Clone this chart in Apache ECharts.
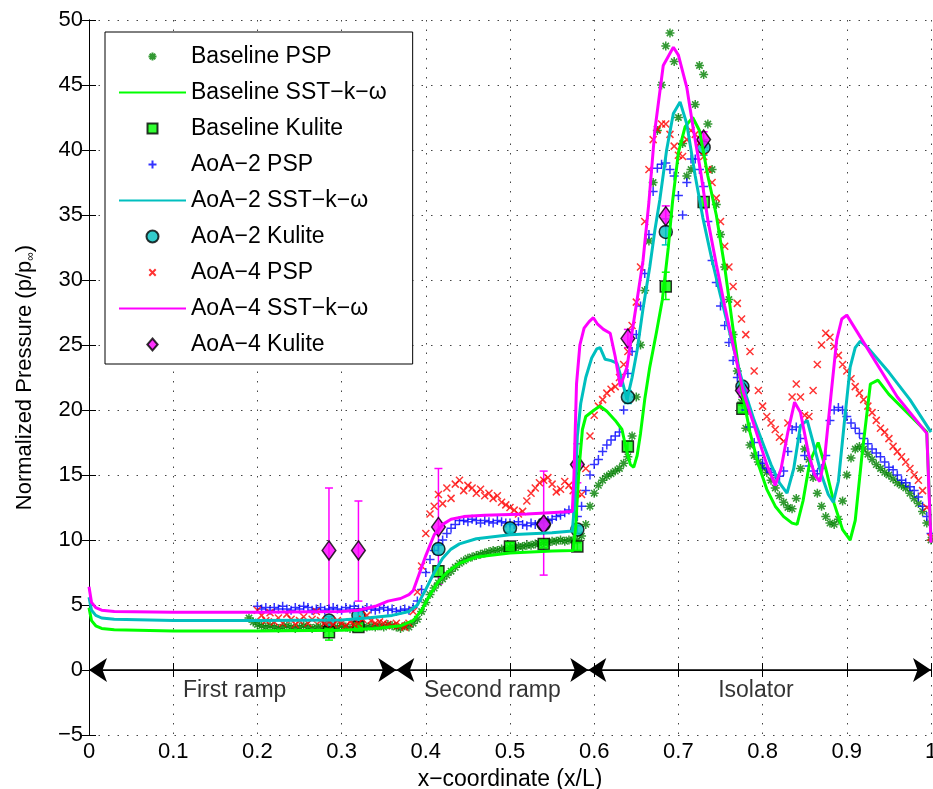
<!DOCTYPE html>
<html><head><meta charset="utf-8">
<script src="https://cdn.jsdelivr.net/npm/echarts@6.0.0/dist/echarts.min.js"></script>
<style>html,body{margin:0;padding:0;background:#fff}#c{width:933px;height:789px}</style>
</head><body><div id="c"></div>
<script>
// ---------- DATA ----------
const pspX = [
0.19,0.195,0.2,0.205,0.21,0.215,0.22,0.225,0.23,0.235,
0.24,0.245,0.25,0.255,0.26,0.265,0.27,0.275,0.28,0.285,
0.29,0.295,0.3,0.305,0.31,0.315,0.32,0.325,0.33,0.335,
0.34,0.345,0.35,0.355,0.36,0.365,0.37,0.375,0.38,0.385,
0.39,0.395,0.4,0.405,0.41,0.415,0.42,0.425,0.43,0.435,
0.44,0.445,0.45,0.455,0.46,0.465,0.47,0.475,0.48,0.485,
0.49,0.495,0.5,0.505,0.51,0.515,0.52,0.525,0.53,0.535,
0.54,0.545,0.55,0.555,0.56,0.565,0.57,0.575,0.58,0.585,
0.59,0.595,0.6,0.605,0.61,0.615,0.62,0.625,0.63,0.635,
0.64,0.645,0.65,0.655,0.66,0.665,0.67,0.675,0.68,0.685,
0.69,0.695,0.7,0.705,0.71,0.715,0.72,0.725,0.73,0.735,
0.74,0.745,0.75,0.755,0.76,0.765,0.77,0.775,0.78,0.785,
0.79,0.795,0.8,0.805,0.81,0.815,0.82,0.825,0.83,0.835,
0.84,0.845,0.85,0.855,0.86,0.865,0.87,0.875,0.88,0.885,
0.89,0.895,0.9,0.905,0.91,0.915,0.92,0.925,0.93,0.935,
0.94,0.945,0.95,0.955,0.96,0.965,0.97,0.975,0.98,0.985,
0.99,0.995,1.0];

const baselinePSP = [
4.0,3.7,3.5,3.4,3.3,3.4,3.3,3.2,3.3,3.4,
3.3,3.2,3.3,3.4,3.3,3.2,3.3,3.3,3.2,3.3,
3.2,3.3,3.4,3.3,3.2,3.3,3.4,3.3,3.3,3.4,
3.3,3.4,3.3,3.5,3.4,3.3,3.2,3.4,3.3,3.6,
3.9,4.5,5.2,5.8,6.3,6.7,7.0,7.3,7.6,7.9,
8.2,8.4,8.6,8.7,8.8,8.9,9.0,9.1,9.2,9.2,
9.3,9.3,9.4,9.4,9.5,9.5,9.6,9.6,9.7,9.7,
9.8,9.8,9.9,9.9,10.0,9.9,10.0,10.0,10.0,10.3,
11.2,12.6,13.6,14.2,14.6,14.9,15.1,15.3,15.5,15.9,
16.4,18.0,21.0,25.0,29.2,33.0,37.5,41.5,45.0,48.0,
49.0,46.8,42.5,40.5,38.0,38.5,43.5,46.5,45.8,42.0,
38.5,35.8,33.5,31.0,28.5,25.8,23.0,20.6,18.6,17.3,
16.5,16.0,15.6,15.2,14.6,14.0,13.4,12.9,12.5,12.4,
13.2,15.5,17.0,16.2,14.8,13.6,12.6,11.8,11.3,11.2,
11.6,13.0,15.0,16.3,17.0,17.2,17.0,16.6,16.2,15.8,
15.5,15.2,15.0,14.7,14.4,14.2,14.0,13.6,13.2,12.8,
12.2,11.3,10.0];

const aoa2PSP = [
null,null,4.9,4.7,4.8,4.6,4.8,4.7,4.9,4.7,
4.6,4.8,4.7,4.9,4.8,4.6,4.7,4.8,4.6,4.7,
4.8,4.7,4.6,4.8,4.7,4.9,4.7,4.6,4.8,4.7,
4.6,4.7,4.8,4.6,4.7,4.5,4.6,4.7,4.6,4.8,
5.3,6.2,7.5,8.5,9.2,9.6,10.0,10.5,10.9,11.2,
11.5,11.5,11.4,11.6,11.5,11.3,11.5,11.4,11.3,11.5,
11.4,11.3,11.3,11.2,11.4,11.2,11.1,11.3,11.2,11.3,
11.4,11.5,11.6,11.8,11.9,12.1,12.3,12.2,11.8,12.6,
13.8,15.0,15.8,16.2,16.8,17.3,17.7,18.0,18.3,20.0,
22.8,24.5,25.8,28.0,30.5,33.5,36.8,38.6,38.9,39.0,
38.5,38.0,36.5,35.0,37.5,39.3,39.3,38.5,37.2,34.5,
31.5,29.8,28.0,26.5,25.2,23.8,22.5,21.3,20.0,18.7,
17.5,16.5,15.9,15.5,15.2,15.0,14.9,15.3,16.8,18.5,
18.7,17.8,16.5,15.7,15.3,15.1,15.5,16.5,19.2,20.0,
20.2,20.0,19.5,19.0,18.6,18.2,17.8,17.4,17.0,16.7,
16.4,16.0,15.6,15.4,15.0,14.6,14.4,14.1,13.8,13.3,
12.6,11.8,10.5];

const aoa4PSP = [
null,null,4.6,4.2,3.8,4.4,3.7,4.0,3.6,4.3,
3.9,3.5,3.8,4.1,3.6,3.9,4.5,3.8,3.6,3.7,
3.5,3.8,3.6,3.4,3.7,3.5,3.6,3.9,4.2,3.8,
3.6,3.7,3.6,3.5,3.4,3.6,3.4,3.3,3.6,4.5,
6.0,8.0,10.5,12.0,12.6,13.5,12.8,14.0,13.2,14.3,
14.6,13.8,14.2,14.0,13.6,13.9,13.4,13.6,13.2,13.4,
12.9,12.7,12.5,12.3,12.0,12.2,13.0,13.6,14.0,14.4,
14.6,14.8,14.3,13.7,13.9,14.5,14.2,13.8,13.6,13.5,
15.5,18.0,19.6,20.3,20.8,21.3,21.6,21.8,22.5,23.5,
24.5,26.5,28.3,31.0,34.5,38.5,40.8,41.6,42.0,42.0,
41.2,40.3,39.6,39.5,40.8,41.5,41.2,40.5,39.5,38.5,
37.5,36.3,34.5,32.6,31.0,29.5,28.2,27.0,25.8,24.5,
23.0,21.5,20.3,19.5,19.0,18.5,17.9,17.6,19.0,21.0,
22.0,21.0,19.6,19.5,21.5,23.5,25.0,25.9,25.6,24.9,
24.2,23.5,23.0,22.4,21.8,21.3,20.8,20.3,19.8,19.2,
18.6,18.3,17.8,17.2,16.8,16.4,16.0,15.5,15.0,14.6,
13.8,12.5,10.2];

const baselineSST = [[0,4.8],[0.003,3.8],[0.008,3.4],[0.015,3.2],[0.03,3.1],[0.1,3.0],[0.2,3.0],[0.3,3.05],[0.34,3.2],[0.37,3.4],[0.385,3.8],[0.395,4.6],[0.405,5.8],[0.415,6.8],[0.425,7.5],[0.44,8.2],[0.46,8.7],[0.5,9.0],[0.55,9.15],[0.575,9.2],[0.578,11.0],[0.582,15.5],[0.586,18.5],[0.59,19.5],[0.6,20.0],[0.607,20.3],[0.615,19.9],[0.625,19.2],[0.633,18.5],[0.638,17.0],[0.643,15.8],[0.647,15.6],[0.651,16.5],[0.655,18.2],[0.66,20.8],[0.666,23.3],[0.674,26.0],[0.681,28.5],[0.688,32.5],[0.693,36.0],[0.7,39.8],[0.708,41.8],[0.717,42.5],[0.725,41.5],[0.735,38.0],[0.745,35.0],[0.755,31.0],[0.765,26.2],[0.775,21.6],[0.785,18.3],[0.795,15.8],[0.805,13.9],[0.815,12.6],[0.825,11.8],[0.835,11.3],[0.841,11.2],[0.848,13.0],[0.856,16.0],[0.866,17.5],[0.875,15.5],[0.885,12.8],[0.895,10.8],[0.904,10.0],[0.91,11.5],[0.918,16.5],[0.928,22.0],[0.937,22.3],[0.95,21.2],[0.97,19.9],[0.995,18.3],[1.0,10.0]];

const aoa2SST = [[0,5.6],[0.003,4.6],[0.008,4.2],[0.015,4.0],[0.03,3.9],[0.1,3.8],[0.2,3.8],[0.3,3.85],[0.33,4.0],[0.36,4.2],[0.38,4.5],[0.39,5.0],[0.4,6.2],[0.41,7.5],[0.42,8.6],[0.43,9.3],[0.44,9.7],[0.46,10.1],[0.5,10.4],[0.55,10.55],[0.574,10.7],[0.577,13.0],[0.58,18.0],[0.584,20.5],[0.59,22.5],[0.597,24.0],[0.603,24.7],[0.607,24.8],[0.613,23.9],[0.62,23.8],[0.627,23.6],[0.633,22.3],[0.639,20.8],[0.645,22.5],[0.651,24.6],[0.658,27.8],[0.666,31.0],[0.672,33.8],[0.678,36.2],[0.686,40.0],[0.694,42.8],[0.702,43.7],[0.71,42.0],[0.72,38.0],[0.729,34.8],[0.74,31.5],[0.75,28.8],[0.76,26.2],[0.77,23.6],[0.78,21.2],[0.79,19.2],[0.8,17.5],[0.81,15.8],[0.82,14.4],[0.829,13.6],[0.837,15.5],[0.845,18.8],[0.853,19.2],[0.86,17.5],[0.87,15.0],[0.878,13.5],[0.884,12.9],[0.89,14.5],[0.897,19.0],[0.904,23.3],[0.91,24.8],[0.916,25.3],[0.925,24.8],[0.95,22.9],[0.975,20.8],[1.0,18.3]];

const aoa4SST = [[0,6.4],[0.003,5.2],[0.008,4.8],[0.015,4.6],[0.03,4.5],[0.1,4.45],[0.2,4.45],[0.3,4.5],[0.32,4.6],[0.34,4.9],[0.355,5.3],[0.37,5.5],[0.38,5.8],[0.385,6.1],[0.39,7.0],[0.4,8.8],[0.41,10.4],[0.42,11.2],[0.43,11.6],[0.445,11.8],[0.47,11.9],[0.52,12.0],[0.574,12.2],[0.576,15.0],[0.579,22.0],[0.583,25.0],[0.588,26.3],[0.594,26.8],[0.599,27.1],[0.604,26.6],[0.611,26.2],[0.619,25.9],[0.625,24.1],[0.631,21.8],[0.639,23.3],[0.645,26.0],[0.651,28.5],[0.658,31.5],[0.665,36.0],[0.672,41.5],[0.682,46.5],[0.694,47.9],[0.7,47.3],[0.71,44.8],[0.718,41.5],[0.726,38.5],[0.735,34.6],[0.745,31.2],[0.755,28.0],[0.765,25.0],[0.777,21.4],[0.785,19.8],[0.795,17.8],[0.805,15.8],[0.815,14.2],[0.822,15.5],[0.83,18.3],[0.838,20.6],[0.845,19.8],[0.855,16.5],[0.862,15.0],[0.868,14.5],[0.874,16.5],[0.881,21.0],[0.888,25.4],[0.894,27.0],[0.9,27.3],[0.92,25.2],[0.94,23.1],[0.96,21.0],[0.98,19.4],[0.995,18.2],[1.0,9.8]];

const kuliteX      = [0.285,0.32,0.415,0.5,0.54,0.58,0.64,0.685,0.73,0.776];
const baselineKul  = [2.9,3.3,7.6,9.5,9.7,9.5,17.2,29.5,36.0,20.1];
const baselineLo   = [2.3,3.0,7.2,9.2,9.4,9.2,16.8,28.5,35.5,19.8];
const baselineHi   = [3.4,3.6,8.0,9.8,10.0,9.8,17.6,30.6,36.4,20.4];
const aoa2Kul      = [3.8,4.2,9.3,10.9,11.2,10.8,21.0,33.7,40.2,21.8];
const aoa2Lo       = [3.5,3.9,8.9,10.6,10.9,10.5,20.5,32.7,39.6,21.4];
const aoa2Hi       = [4.1,4.5,9.7,11.2,11.5,11.1,21.5,34.7,40.8,22.2];
const aoa4KulX     = [0.285,0.32,0.415,0.54,0.58,0.64,0.685,0.73,0.776];
const aoa4Kul      = [9.2,9.2,11.0,11.2,15.8,25.5,34.9,40.8,21.5];
const aoa4Lo       = [4.5,5.3,6.6,7.3,14.4,24.8,34.1,40.2,21.0];
const aoa4Hi       = [14.0,13.0,15.5,15.3,17.4,26.2,35.7,41.4,22.0];

const regionBounds = [0, 0.365, 0.593, 1];
const regionNames  = ['First ramp', 'Second ramp', 'Isolator'];
const regionLabelX = [0.173, 0.479, 0.792];
const regionLabelY = -1.6;

const legendNames = ['Baseline PSP','Baseline SST\u2212k\u2212\u03c9','Baseline Kulite',
  'AoA\u22122 PSP','AoA\u22122 SST\u2212k\u2212\u03c9','AoA\u22122 Kulite',
  'AoA\u22124 PSP','AoA\u22124 SST\u2212k\u2212\u03c9','AoA\u22124 Kulite'];

// ---------- BUILD ----------
const FONT = 'Liberation Sans';
const STAR    = 'path://M4,0L4,8M0,4L8,4M1.2,1.2L6.8,6.8M6.8,1.2L1.2,6.8';
const PLUS    = 'path://M4,0L4,8M0,4L8,4';
const CROSS   = 'path://M0,0L8,8M8,0L0,8';
const SQUARE  = 'path://M0,0L10,0L10,10L0,10Z';
const DIAMOND = 'path://M6,0L12,7L6,14L0,7Z';
// legend icons (padded so that the glyph is drawn smaller inside the icon box)
const STAR_L   = 'path://M-2,-2M4,0L4,8M0,4L8,4M1.2,1.2L6.8,6.8M6.8,1.2L1.2,6.8M10,10';
const PLUS_L   = 'path://M-2,-2M4,0L4,8M0,4L8,4M10,10';
const CROSS_L  = 'path://M-3.5,-3.5M0,0L8,8M8,0L0,8M11.5,11.5';
const SQUARE_L = 'path://M-1,-1M0,0L10,0L10,10L0,10ZM11,11';

function pspData(ys){ const o=[]; for(let i=0;i<pspX.length;i++){ if(ys[i]!=null) o.push([pspX[i], ys[i]]); } return o; }
function pts(xs, ys){ return xs.map((x,i)=>[x, ys[i]]); }
function errData(xs, lo, hi){ return xs.map((x,i)=>[x, lo[i], hi[i]]); }
function errRender(color){
  return function(params, api){
    const x = api.value(0);
    const a = api.coord([x, api.value(1)]);
    const b = api.coord([x, api.value(2)]);
    const w = 4, st = {stroke: color, lineWidth: 1.5};
    return {type:'group', children:[
      {type:'line', shape:{x1:a[0],y1:a[1],x2:b[0],y2:b[1]}, style:st},
      {type:'line', shape:{x1:a[0]-w,y1:a[1],x2:a[0]+w,y2:a[1]}, style:st},
      {type:'line', shape:{x1:b[0]-w,y1:b[1],x2:b[0]+w,y2:b[1]}, style:st}
    ]};
  };
}
function pspSeries(name, ys, sym, size, color, bw){
  return {name, type:'scatter', data:pspData(ys), symbol:sym, symbolSize:size,
    itemStyle:{color:'rgba(0,0,0,0)', borderColor:color, borderWidth:bw}};
}
function sstSeries(name, d, color){
  return {name, type:'line', data:d, symbol:'none', lineStyle:{color, width:3}, itemStyle:{color}};
}
function errSeries(id, xs, lo, hi, color){
  return {name:id, type:'custom', data:errData(xs, lo, hi), encode:{x:0, y:[1,2]}, renderItem:errRender(color)};
}
function kulSeries(name, xs, ys, sym, size, color){
  return {name, type:'scatter', data:pts(xs, ys), symbol:sym, symbolSize:size, symbolKeepAspect:true,
    itemStyle:{color, borderColor:'#000', borderWidth:1.5}};
}

const G='#008000', LG='#00ff00', B='#0000ff', C='#00bfbf', R='#ff0000', M='#ff00ff';

const series = [
  pspSeries(legendNames[0], baselinePSP, STAR, 9, G, 1.5),
  sstSeries(legendNames[1], baselineSST, LG),
  errSeries('errB', kuliteX, baselineLo, baselineHi, LG),
  kulSeries(legendNames[2], kuliteX, baselineKul, SQUARE, 11, LG),
  pspSeries(legendNames[3], aoa2PSP, PLUS, 9, B, 1.5),
  sstSeries(legendNames[4], aoa2SST, C),
  errSeries('errA2', kuliteX, aoa2Lo, aoa2Hi, C),
  kulSeries(legendNames[5], kuliteX, aoa2Kul, 'circle', 13, C),
  pspSeries(legendNames[6], aoa4PSP, CROSS, 7, R, 1.5),
  sstSeries(legendNames[7], aoa4SST, M),
  errSeries('errA4', aoa4KulX, aoa4Lo, aoa4Hi, M),
  kulSeries(legendNames[8], aoa4KulX, aoa4Kul, DIAMOND, [16,19], M),
  {name:'regionLabels', type:'scatter', symbolSize:0, silent:true,
    data: regionLabelX.map(x=>[x, regionLabelY]),
    label:{show:true, position:'inside', fontSize:23, fontFamily:FONT, color:'#000',
      formatter:p=>regionNames[p.dataIndex]}},
  {name:'regionArrows', type:'line', data:[], silent:true,
    markLine:{silent:true, symbol:['arrow','arrow'], symbolSize:18, animation:false,
      label:{show:false}, lineStyle:{color:'#000', width:1.5, type:'solid'},
      data: regionNames.map((n,i)=>[{coord:[regionBounds[i],0]},{coord:[regionBounds[i+1],0]}])}}
];

const gridLine = {show:true, lineStyle:{color:'#444', width:1, type:[1.5,8]}};
const axLine = {show:true, lineStyle:{color:'#000', width:1}};
const tick = {show:true, inside:true, length:7, lineStyle:{color:'#000'}};

const legendIcons = [STAR_L, null, SQUARE_L, PLUS_L, null, 'circle', CROSS_L, null, DIAMOND];
const legendData = legendNames.map((n,i)=> legendIcons[i] ? {name:n, icon:legendIcons[i]} : {name:n, itemStyle:{opacity:0}});

const option = {
  animation:false,
  textStyle:{fontFamily:FONT},
  backgroundColor:'#fff',
  grid:{left:89, right:2, top:20, bottom:54, containLabel:false, outerBoundsMode:'none'},
  legend:{
    orient:'vertical', left:105, top:32, padding:[13,26,8,13],
    itemWidth:67, itemHeight:12, itemGap:13, symbolKeepAspect:true,
    backgroundColor:'#fff', borderColor:'#000', borderWidth:1,
    textStyle:{fontSize:23, color:'#000', fontFamily:FONT},
    data: legendData
  },
  xAxis:[
    {type:'value', min:0, max:1, interval:0.1, position:'bottom',
     axisLine:axLine, axisTick:tick, splitLine:gridLine,
     axisLabel:{fontSize:22, color:'#000', margin:6, fontFamily:FONT,
       formatter:v=>String(Math.round(v*10)/10)},
     name:'x\u2212coordinate (x/L)', nameLocation:'middle', nameGap:31,
     nameTextStyle:{fontSize:23, color:'#000', fontFamily:FONT}},
    {type:'value', min:0, max:1, interval:0.1, position:'top',
     axisLine:axLine, axisTick:tick, splitLine:{show:false}, axisLabel:{show:false}}
  ],
  yAxis:[
    {type:'value', min:-5, max:50, interval:5, position:'left',
     axisLine:axLine, axisTick:tick, splitLine:gridLine,
     axisLabel:{fontSize:22, color:'#000', margin:6, fontFamily:FONT,
       formatter:v=>String(v).replace('-', '\u2212')},
     name:'{a|Normalized Pressure (p/p}{s|\u221e}{a|)}', nameLocation:'middle', nameGap:52, nameRotate:90,
     nameTextStyle:{color:'#000', rich:{
       a:{fontSize:22, color:'#000', fontFamily:FONT},
       s:{fontSize:12, color:'#000', fontFamily:FONT, padding:[12,0,0,0]}}}},
    {type:'value', min:-5, max:50, interval:5, position:'right',
     axisLine:axLine, axisTick:tick, splitLine:{show:false}, axisLabel:{show:false}}
  ],
  series: series
};

const chart = echarts.init(document.getElementById('c'));
chart.setOption(option);
</script>
</body></html>
